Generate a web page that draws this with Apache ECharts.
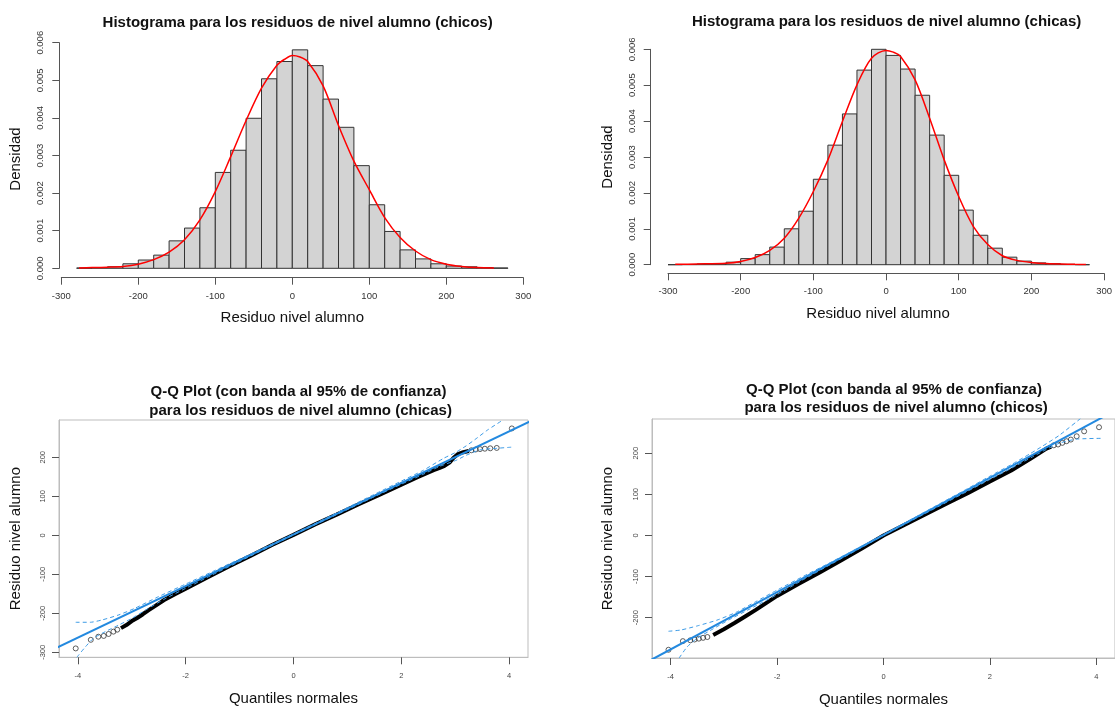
<!DOCTYPE html>
<html><head><meta charset="utf-8">
<script src="https://cdn.jsdelivr.net/npm/echarts@6/dist/echarts.min.js"></script>
<style>html,body{margin:0;padding:0;background:#fff}#c{width:1115px;height:708px}</style>
</head><body><div id="c"></div><script>
// ---------------- DATA ----------------
const histTicksX = [-300, -200, -100, 0, 100, 200, 300];
const qqTicksX = [-4, -2, 0, 2, 4];
const qqTicksYChicas = [-300, -200, -100, 0, 100, 200];
const qqTicksYChicos = [-200, -100, 0, 100, 200];

// Histogram chicos (top-left)
const chicosBreaks = [-280,-260,-240,-220,-200,-180,-160,-140,-120,-100,-80,-60,-40,-20,0,20,40,60,80,100,120,140,160,180,200,220,240,260,280];
const chicosDensity = [0.00001,0.00002,0.00004,0.00012,0.00022,0.00035,0.00073,0.00107,0.00161,0.00255,0.00314,0.00399,0.00504,0.00550,0.00581,0.00539,0.00450,0.00375,0.00273,0.00169,0.00098,0.00049,0.00025,0.00012,0.00006,0.00004,0.00002,0.00001];
const chicosKdeX = [-277,-260,-240,-220,-200,-180,-160,-140,-120,-100,-80,-60,-40,-20,-10,0,10,20,40,60,80,100,120,140,160,180,200,220,240,262];
const chicosKdeY = [0.00001,0.00002,0.00003,0.00005,0.00011,0.00023,0.00043,0.00076,0.00129,0.00204,0.00297,0.00393,0.00479,0.00540,0.00556,0.00566,0.00562,0.00550,0.00485,0.00380,0.00285,0.00209,0.00135,0.00082,0.00046,0.00023,0.00011,0.00005,0.00002,0.00001];

// Histogram chicas (top-right)
const chicasBreaks = [-300,-280,-260,-240,-220,-200,-180,-160,-140,-120,-100,-80,-60,-40,-20,0,20,40,60,80,100,120,140,160,180,200,220,240,260,280];
const chicasDensity = [0,0.000005,0.00002,0.00002,0.00007,0.00017,0.00028,0.00049,0.00100,0.00149,0.00238,0.00333,0.00420,0.00542,0.00600,0.00583,0.00545,0.00472,0.00361,0.00249,0.00152,0.00082,0.00046,0.00021,0.00010,0.00005,0.00003,0.00001,0];
const chicasKdeX = [-290,-260,-220,-200,-180,-160,-140,-120,-100,-80,-60,-40,-20,0,10,20,40,60,80,100,120,140,160,180,200,220,260,275];
const chicasKdeY = [0.00001,0.00002,0.00004,0.00009,0.00020,0.00040,0.00074,0.00130,0.00204,0.00292,0.00399,0.00501,0.00575,0.00597,0.00592,0.00580,0.00515,0.00408,0.00292,0.00190,0.00107,0.00056,0.00025,0.00012,0.00006,0.00003,0.00001,0.000005];

// Q-Q chicas (bottom-left)
const qqChicasRefX = [-4.4, 4.4];
const qqChicasRefY = [-289, 293];
const qqChicasBandX = [-3.2,-3.1,-3.0,-2.9,-2.8,-2.7,-2.6,-2.5,-2.4,-2.2,-2.0,-1.6,-1.2,-0.8,-0.4,0,0.4,0.8,1.2,1.6,2.0,2.3,2.6,2.7,2.8,2.9,2.97,3.05,3.15,3.25];
const qqChicasBandY = [-238,-230,-220,-212,-203,-193,-184,-175,-166,-151,-137,-108,-80,-53,-25,1,28,53,79,104,130,149,167,172,178,187,199,208,213,216];
const qqChicasPtX = [-4.04,-3.76,-3.62,-3.52,-3.43,-3.34,-3.27,3.3,3.38,3.46,3.55,3.65,3.77,4.05];
const qqChicasPtY = [-290,-268,-260,-258,-253,-247,-242,218,220,221,222,223,224,274];
const qqChicasUpX = [-4.04,-3.77,-3.55,-3.24,-2.94,-2.5,-2.0,-1.5,-1,0,1,1.5,2,2.4,2.78,3.0,3.2,3.4,3.6,3.89];
const qqChicasUpY = [-223,-223,-217,-204,-187,-157,-125,-93,-61,3,71,105,139,166,197,212,229,249,270,296];
const qqChicasLoX = [-4.02,-3.86,-3.71,-3.49,-3.24,-3.0,-2.7,-2.4,-2.0,-1.5,-1,0,1,1.5,2,2.4,2.7,3.03,3.2,3.46,3.77,4.05];
const qqChicasLoY = [-313,-286,-264,-247,-230,-213,-188,-164,-136,-101,-67,1,66,99,131,156,176,193,205,219,223,226];

// Q-Q chicos (bottom-right)
const qqChicosRefX = [-4.4, 4.4];
const qqChicosRefY = [-305, 307];
const qqChicosBandX = [-3.2,-3.0,-2.8,-2.6,-2.4,-2.2,-2.0,-1.6,-1.2,-0.8,-0.4,0,0.4,0.8,1.2,1.6,2.0,2.4,2.76,3.06,3.15];
const qqChicosBandY = [-242,-228,-213,-197,-181,-164,-147,-118,-90,-61,-31,0,26,52,78,104,131,158,186,211,216];
const qqChicosPtX = [-4.04,-3.77,-3.63,-3.55,-3.47,-3.39,-3.31,3.2,3.28,3.36,3.44,3.52,3.63,3.77,4.05];
const qqChicosPtY = [-278,-257,-255,-253,-251,-249,-247,219,221,225,229,233,241,253,263];
const qqChicosUpX = [-4.04,-3.81,-3.5,-3.13,-2.77,-2.4,-2.0,-1.5,-1,0,1,1.5,2,2.4,2.76,3.0,3.3,3.72];
const qqChicosUpY = [-233,-230,-220,-206,-187,-161,-133,-99,-66,2,73,108,144,172,199,218,243,286];
const qqChicosLoX = [-3.84,-3.69,-3.5,-3.2,-2.9,-2.5,-2.0,-1.5,-1,0,1,1.5,2,2.4,2.8,3.06,3.3,3.62,4.1];
const qqChicosLoY = [-298,-271,-250,-227,-205,-178,-144,-107,-71,0,68,102,136,163,191,209,224,234,236];

// ---------------- HELPERS ----------------
const FF = '"Liberation Sans", Arial, sans-serif';
const zip = (a, b) => a.map((v, i) => [v, b[i]]);
const bins = (br, d) => d.map((h, i) => [br[i], br[i + 1], h]);
function histRender(params, api) {
  const p0 = api.coord([api.value(0), api.value(2)]);
  const p1 = api.coord([api.value(1), 0]);
  return { type: 'rect', shape: { x: p0[0], y: p0[1], width: p1[0] - p0[0], height: p1[1] - p0[1] },
    style: { fill: '#d3d3d3', stroke: '#333', lineWidth: 1 } };
}
function titleOf(text, left, top) {
  return { text, left, top, textAlign: 'center',
    textStyle: { fontFamily: FF, fontSize: 15, fontWeight: 'bold', color: '#111', lineHeight: 18.5 } };
}
function histX(gi, off, pad) {
  return { gridIndex: gi, type: 'value', min: -300, max: 300, interval: 100, offset: off,
    axisLine: { show: true, onZero: false, lineStyle: { color: '#555' } },
    axisTick: { show: true, length: 7, lineStyle: { color: '#555' } },
    axisLabel: { fontFamily: FF, fontSize: 9.5, color: '#333', margin: 13.5, customValues: histTicksX },
    splitLine: { show: false },
    name: 'Residuo nivel alumno', nameLocation: 'middle', nameGap: 33,
    nameTextStyle: { fontFamily: FF, fontSize: 15, color: '#111', padding: pad } };
}
function histY(gi, off, gap, pad) {
  return { gridIndex: gi, type: 'value', min: 0, max: 0.006, interval: 0.001, offset: off,
    axisLine: { show: true, onZero: false, lineStyle: { color: '#555' } },
    axisTick: { show: true, length: 7, lineStyle: { color: '#555' } },
    axisLabel: { fontFamily: FF, fontSize: 9.5, color: '#333', margin: 13.5, rotate: 90,
      formatter: v => v.toFixed(3) },
    splitLine: { show: false },
    name: 'Densidad', nameLocation: 'middle', nameRotate: 90, nameGap: gap,
    nameTextStyle: { fontFamily: FF, fontSize: 15, color: '#111', padding: pad } };
}
function qqX(gi) {
  return { gridIndex: gi, type: 'value', min: -4.35, max: 4.35,
    axisLine: { show: true, onZero: false, lineStyle: { color: '#bdbdbd' } },
    axisTick: { show: true, inside: false, length: 7, customValues: qqTicksX, lineStyle: { color: '#555', width: 1 } },
    axisLabel: { fontFamily: FF, fontSize: 7.5, color: '#444', margin: 15, customValues: qqTicksX },
    splitLine: { show: false },
    name: 'Quantiles normales', nameLocation: 'middle', nameGap: 34,
    nameTextStyle: { fontFamily: FF, fontSize: 15, color: '#111' } };
}
function qqY(gi, min, max, ticks, gap) {
  return { gridIndex: gi, type: 'value', min, max,
    axisLine: { show: true, onZero: false, lineStyle: { color: '#bdbdbd' } },
    axisTick: { show: true, inside: false, length: 7, customValues: ticks, lineStyle: { color: '#555', width: 1 } },
    axisLabel: { fontFamily: FF, fontSize: 7.5, color: '#444', margin: 12.5, rotate: 90, customValues: ticks },
    splitLine: { show: false },
    name: 'Residuo nivel alumno', nameLocation: 'middle', nameRotate: 90, nameGap: gap,
    nameTextStyle: { fontFamily: FF, fontSize: 15, color: '#111' } };
}
function qqSeries(gi, bandX, bandY, ptX, ptY, refX, refY, upX, upY, loX, loY) {
  const blue = '#2389df';
  return [
    { type: 'line', xAxisIndex: gi, yAxisIndex: gi, data: zip(bandX, bandY), smooth: false,
      showSymbol: false, lineStyle: { color: '#000', width: 4 }, z: 2, silent: true },
    { type: 'scatter', xAxisIndex: gi, yAxisIndex: gi, data: zip(ptX, ptY), symbol: 'circle', symbolSize: 5,
      itemStyle: { color: 'rgba(0,0,0,0)', borderColor: '#222', borderWidth: 0.9 }, z: 3, silent: true },
    { type: 'line', xAxisIndex: gi, yAxisIndex: gi, data: zip(refX, refY), showSymbol: false,
      lineStyle: { color: blue, width: 2 }, z: 4, silent: true },
    { type: 'line', xAxisIndex: gi, yAxisIndex: gi, data: zip(upX, upY), smooth: 0.2, showSymbol: false,
      lineStyle: { color: '#3d9be6', width: 1, type: [4, 3] }, z: 5, silent: true },
    { type: 'line', xAxisIndex: gi, yAxisIndex: gi, data: zip(loX, loY), smooth: 0.2, showSymbol: false,
      lineStyle: { color: '#3d9be6', width: 1, type: [4, 3] }, z: 5, silent: true }
  ];
}

const chart = echarts.init(document.getElementById('c'), null, { renderer: 'canvas' });
chart.setOption({
  animation: false,
  backgroundColor: '#fff',
  title: [
    titleOf('Histograma para los residuos de nivel alumno (chicos)', 292.6, 8.5),
    titleOf('Histograma para los residuos de nivel alumno (chicas)', 881.6, 7.5),
    titleOf('Q-Q Plot (con banda al 95% de confianza)\n para los residuos de nivel alumno (chicas)', 293.5, 378),
    titleOf('Q-Q Plot (con banda al 95% de confianza)\n para los residuos de nivel alumno (chicos)', 889, 375.5)
  ],
  grid: [
    { left: 61.3, width: 462, top: 42.7, height: 225.6 },
    { left: 668, width: 442, top: 49.3, height: 215.4 },
    { left: 59, width: 469, top: 420, height: 237.3, show: true, borderColor: '#bdbdbd', borderWidth: 1, backgroundColor: 'transparent' },
    { left: 652, width: 474, top: 419, height: 239.3, show: true, borderColor: '#bdbdbd', borderWidth: 1, backgroundColor: 'transparent' }
  ],
  xAxis: [ histX(0, 9.4, [0,0,0,0]), histX(1, 8.6, [0,16,0,0]), qqX(2), qqX(3) ],
  yAxis: [ histY(0, 2, 36, [0,7,0,0]), histY(1, 17.3, 35, [0,0,0,0]),
           qqY(2, -312.8, 295.6, qqTicksYChicas, 35.5), qqY(3, -298, 283, qqTicksYChicos, 36.5) ],
  series: [
    { type: 'custom', xAxisIndex: 0, yAxisIndex: 0, renderItem: histRender, data: bins(chicosBreaks, chicosDensity),
      encode: { x: [0, 1], y: 2 }, clip: false, silent: true },
    { type: 'line', xAxisIndex: 0, yAxisIndex: 0, data: zip(chicosKdeX, chicosKdeY), smooth: 0.3,
      showSymbol: false, lineStyle: { color: '#ff0000', width: 1.5 }, z: 5, silent: true },
    { type: 'custom', xAxisIndex: 1, yAxisIndex: 1, renderItem: histRender, data: bins(chicasBreaks, chicasDensity),
      encode: { x: [0, 1], y: 2 }, clip: false, silent: true },
    { type: 'line', xAxisIndex: 1, yAxisIndex: 1, data: zip(chicasKdeX, chicasKdeY), smooth: 0.3,
      showSymbol: false, lineStyle: { color: '#ff0000', width: 1.5 }, z: 5, silent: true },
    ...qqSeries(2, qqChicasBandX, qqChicasBandY, qqChicasPtX, qqChicasPtY, qqChicasRefX, qqChicasRefY,
                qqChicasUpX, qqChicasUpY, qqChicasLoX, qqChicasLoY),
    ...qqSeries(3, qqChicosBandX, qqChicosBandY, qqChicosPtX, qqChicosPtY, qqChicosRefX, qqChicosRefY,
                qqChicosUpX, qqChicosUpY, qqChicosLoX, qqChicosLoY)
  ]
});
</script></body></html>
